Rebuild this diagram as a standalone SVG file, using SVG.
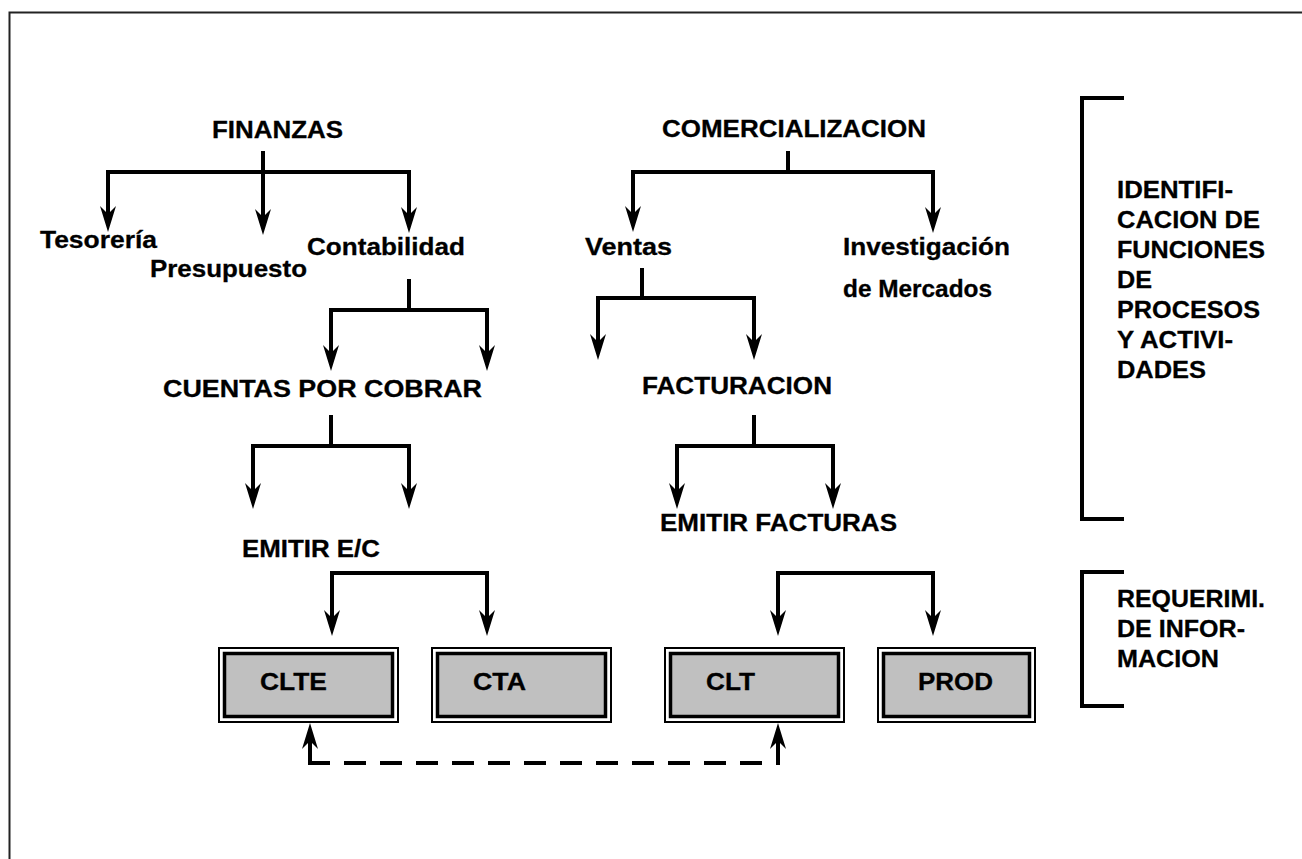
<svg xmlns="http://www.w3.org/2000/svg" width="1302" height="859" viewBox="0 0 1302 859">
<style>
  text { font-family: "Liberation Sans", Arial, sans-serif; font-weight: bold; font-size: 24px; fill: #000; stroke: #000; stroke-width: 0.3; }
  .ln { fill: none; stroke: #000; stroke-width: 4; stroke-linejoin: miter; }
  .ar { fill: none; stroke: #000; stroke-width: 4; stroke-linejoin: miter; marker-end: url(#ah); }
  .dash { fill: none; stroke: #000; stroke-width: 4; stroke-dasharray: 22 14; }
  .bo { fill: #fff; stroke: #000; stroke-width: 2; }
  .bi { fill: #c0c0c0; stroke: #000; stroke-width: 3.5; }
</style>
<defs>
  <marker id="ah" markerUnits="userSpaceOnUse" markerWidth="26" markerHeight="16" viewBox="0 0 26 16" refX="12" refY="8" orient="auto" overflow="visible">
    <path d="M0,0 L26,8 L0,16 L8,8 Z" fill="#000"/>
  </marker>
</defs>
<rect width="1302" height="859" fill="#fff"/>
<path d="M9.5,859 V12.5 H1302" fill="none" stroke="#222" stroke-width="2"/>

<g id="connectors">
  <path class="ln" d="M263,151 V172"/>
  <path class="ar" d="M263,172 H108 V218"/>
  <path class="ar" d="M263,172 V221"/>
  <path class="ar" d="M263,172 H409 V219"/>

  <path class="ln" d="M409,279 V310"/>
  <path class="ar" d="M409,310 H331 V357"/>
  <path class="ar" d="M409,310 H487 V357"/>

  <path class="ln" d="M331,415 V446"/>
  <path class="ar" d="M331,446 H253 V495"/>
  <path class="ar" d="M331,446 H409 V495"/>

  <path class="ln" d="M788,151 V172"/>
  <path class="ar" d="M788,172 H633 V218"/>
  <path class="ar" d="M788,172 H933 V219"/>

  <path class="ln" d="M642,268 V298"/>
  <path class="ar" d="M642,298 H598 V346"/>
  <path class="ar" d="M642,298 H754 V346"/>

  <path class="ln" d="M754,415 V446"/>
  <path class="ar" d="M754,446 H677 V495"/>
  <path class="ar" d="M754,446 H833 V495"/>

  <path class="ar" d="M410,573 H332 V622"/>
  <path class="ar" d="M410,573 H487 V622"/>

  <path class="ar" d="M855,573 H778 V622"/>
  <path class="ar" d="M855,573 H933 V622"/>

  <path class="ar" d="M310,765 V737"/>
  <path class="ar" d="M778,765 V737"/>
  <path class="dash" d="M308,763 H780"/>

  <path class="ln" d="M1124,98 H1082 V519 H1124"/>
  <path class="ln" d="M1124,572 H1082 V706 H1124"/>
</g>

<g id="finanzas"><text x="212" y="138" textLength="131" lengthAdjust="spacingAndGlyphs">FINANZAS</text></g>
<g id="tesoreria"><text x="40" y="248" textLength="117" lengthAdjust="spacingAndGlyphs">Tesorería</text></g>
<g id="presupuesto"><text x="150" y="277" textLength="157" lengthAdjust="spacingAndGlyphs">Presupuesto</text></g>
<g id="contabilidad"><text x="307" y="255" textLength="158" lengthAdjust="spacingAndGlyphs">Contabilidad</text></g>
<g id="comercializacion"><text x="662" y="137" textLength="264" lengthAdjust="spacingAndGlyphs">COMERCIALIZACION</text></g>
<g id="ventas"><text x="585" y="255" textLength="87" lengthAdjust="spacingAndGlyphs">Ventas</text></g>
<g id="investigacion">
  <text x="843" y="255" textLength="167" lengthAdjust="spacingAndGlyphs">Investigación</text>
  <text x="843" y="297" textLength="149" lengthAdjust="spacingAndGlyphs">de Mercados</text>
</g>
<g id="cuentas"><text x="163" y="397" textLength="319" lengthAdjust="spacingAndGlyphs">CUENTAS POR COBRAR</text></g>
<g id="facturacion"><text x="642" y="394" textLength="190" lengthAdjust="spacingAndGlyphs">FACTURACION</text></g>
<g id="emitir-ec"><text x="242" y="557" textLength="138" lengthAdjust="spacingAndGlyphs">EMITIR E/C</text></g>
<g id="emitir-facturas"><text x="660" y="531" textLength="237" lengthAdjust="spacingAndGlyphs">EMITIR FACTURAS</text></g>

<g id="clte">
  <rect class="bo" x="219" y="648" width="179" height="74"/>
  <rect class="bi" x="224.5" y="653.5" width="168" height="63"/>
  <text x="260" y="690" textLength="67" lengthAdjust="spacingAndGlyphs">CLTE</text>
</g>
<g id="cta">
  <rect class="bo" x="432" y="648" width="179" height="74"/>
  <rect class="bi" x="437.5" y="653.5" width="168" height="63"/>
  <text x="473" y="690" textLength="53" lengthAdjust="spacingAndGlyphs">CTA</text>
</g>
<g id="clt">
  <rect class="bo" x="665" y="648" width="179" height="74"/>
  <rect class="bi" x="670.5" y="653.5" width="168" height="63"/>
  <text x="706" y="690" textLength="49" lengthAdjust="spacingAndGlyphs">CLT</text>
</g>
<g id="prod">
  <rect class="bo" x="878" y="648" width="157" height="74"/>
  <rect class="bi" x="883.5" y="653.5" width="146" height="63"/>
  <text x="918" y="690" textLength="75" lengthAdjust="spacingAndGlyphs">PROD</text>
</g>

<g id="identificacion">
  <text x="1117" y="198" textLength="116" lengthAdjust="spacingAndGlyphs">IDENTIFI-</text>
  <text x="1117" y="228" textLength="143" lengthAdjust="spacingAndGlyphs">CACION DE</text>
  <text x="1117" y="258" textLength="148" lengthAdjust="spacingAndGlyphs">FUNCIONES</text>
  <text x="1117" y="288" textLength="35" lengthAdjust="spacingAndGlyphs">DE</text>
  <text x="1117" y="318" textLength="143" lengthAdjust="spacingAndGlyphs">PROCESOS</text>
  <text x="1117" y="348" textLength="116" lengthAdjust="spacingAndGlyphs">Y ACTIVI-</text>
  <text x="1117" y="378" textLength="89" lengthAdjust="spacingAndGlyphs">DADES</text>
</g>
<g id="requerimientos">
  <text x="1117" y="607" textLength="148" lengthAdjust="spacingAndGlyphs">REQUERIMI.</text>
  <text x="1117" y="637" textLength="128" lengthAdjust="spacingAndGlyphs">DE INFOR-</text>
  <text x="1117" y="667" textLength="102" lengthAdjust="spacingAndGlyphs">MACION</text>
</g>
</svg>
